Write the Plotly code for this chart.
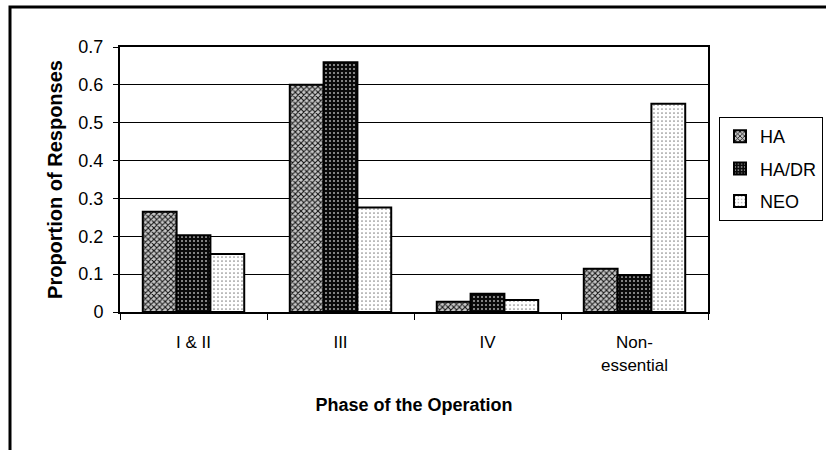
import plotly.graph_objects as go

categories = ["I & II", "III", "IV", "Non-<br>essential"]
series_names = ["HA", "HA/DR", "NEO"]
ha = [0.265, 0.60, 0.027, 0.114]
ha_dr = [0.203, 0.66, 0.048, 0.097]
neo = [0.153, 0.276, 0.032, 0.55]
y_ticks = [0, 0.1, 0.2, 0.3, 0.4, 0.5, 0.6, 0.7]

FONT = "Liberation Sans, Arial, sans-serif"

styles = [
    dict(shape="x", fgcolor="#111111", bgcolor="#c8c8c8", size=4, solidity=0.45),
    dict(shape=".", fgcolor="#aaaaaa", bgcolor="#0a0a0a", size=4, solidity=0.2),
    dict(shape=".", fgcolor="#888888", bgcolor="#ffffff", size=4, solidity=0.15),
]

fig = go.Figure()
for name, vals, st, grp in zip(series_names, [ha, ha_dr, neo], styles, ["a", "b", "c"]):
    fig.add_trace(go.Bar(
        x=categories, y=vals, name=name, legendgroup=grp,
        marker=dict(color=st["bgcolor"], line=dict(color="black", width=2),
                    pattern=dict(shape=st["shape"], fgcolor=st["fgcolor"], bgcolor=st["bgcolor"],
                                 size=st["size"], solidity=st["solidity"], fillmode="replace")),
    ))

fig.update_layout(
    width=826, height=450,
    margin=dict(l=120, r=118, t=47, b=138, autoexpand=False),
    paper_bgcolor="white", plot_bgcolor="white",
    barmode="group", bargap=0.31, bargroupgap=0,
    font=dict(family=FONT, size=17, color="black"),
    showlegend=True,
    legend=dict(x=(719 - 120) / 588, xanchor="left", y=0.736, yanchor="top",
                bordercolor="black", borderwidth=1, bgcolor="white",
                font=dict(size=18, family=FONT), tracegroupgap=6,
                itemwidth=30),
    xaxis=dict(
        title=dict(text="<b>Phase of the Operation</b>", font=dict(size=18), standoff=25),
        tickson="boundaries", ticks="outside", ticklen=6, tickcolor="black", tickwidth=1,
        showline=True, linecolor="black", linewidth=2, mirror=True,
        showgrid=False, tickfont=dict(size=17), ticklabelstandoff=14,
    ),
    yaxis=dict(
        title=dict(text="<b>Proportion of Responses</b>", font=dict(size=20), standoff=10),
        range=[0, 0.7], tickvals=y_ticks, ticktext=[("%g" % v) for v in y_ticks],
        ticks="outside", ticklen=5, tickcolor="black", tickwidth=1,
        showline=True, linecolor="black", linewidth=2, mirror=True,
        showgrid=True, gridcolor="black", gridwidth=1,
        tickfont=dict(size=18), ticklabelstandoff=6,
    ),
    shapes=[dict(type="rect", xref="paper", yref="paper",
                 x0=(10 - 120) / 588, x1=(840 - 120) / 588,
                 y0=(312 - 470) / 265, y1=(312 - 7) / 265,
                 line=dict(color="black", width=3), fillcolor="rgba(0,0,0,0)", layer="below")],
)

fig.write_html("out.html", config={"displayModeBar": False},
               post_script="document.body.style.margin='0';document.body.style.overflow='hidden';")
